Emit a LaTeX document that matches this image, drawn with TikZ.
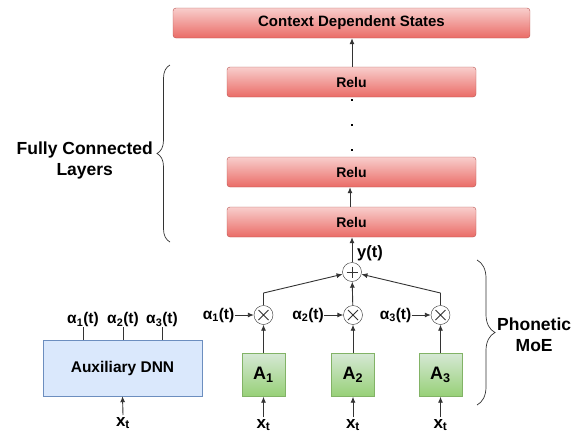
\documentclass[tikz,border=0pt]{standalone}
\usepackage{fontspec}
\setmainfont{Liberation Sans}
\usetikzlibrary{arrows.meta,decorations.pathreplacing,calc}

\definecolor{redtop}{HTML}{F8CECC}
\definecolor{redbot}{HTML}{EA6B66}
\definecolor{redline}{HTML}{B85450}
\definecolor{greentop}{HTML}{D5E8D4}
\definecolor{greenbot}{HTML}{97D077}
\definecolor{greenline}{HTML}{82B366}
\definecolor{bluefill}{HTML}{DAE8FC}
\definecolor{blueline}{HTML}{6C8EBF}
\definecolor{ink}{HTML}{333333}

\tikzset{
  layer/.style={draw=redline, rounded corners=3pt, top color=redtop, bottom color=redbot,
    minimum height=30pt, inner sep=0pt, font=\fontsize{14}{15}\selectfont\bfseries},
  expert/.style={draw=greenline, top color=greentop, bottom color=greenbot,
    minimum width=43pt, minimum height=43pt, inner sep=0pt, font=\fontsize{18}{19}\selectfont\bfseries},
  auxbox/.style={draw=blueline, fill=bluefill, minimum width=159pt, minimum height=56pt,
    inner sep=0pt, font=\fontsize{15.5}{16}\selectfont\bfseries},
  opnode/.style={draw=ink, fill=white, circle, minimum size=19pt, inner sep=0pt},
  lbl/.style={inner sep=0pt, font=\fontsize{15.5}{16}\selectfont\bfseries},
  side/.style={inner sep=0pt, align=center, font=\fontsize{17.5}{21}\selectfont\bfseries},
  wire/.style={draw=ink, line width=0.9pt},
  arr/.style={wire, -{Latex[length=6pt,width=5pt]}},
  bracket/.style={draw=ink, line width=0.7pt, decorate,
    decoration={brace, amplitude=#1}},
  dotmark/.style={fill=black, minimum size=2.6pt, inner sep=0pt},
}

\begin{document}
\begin{tikzpicture}[x=1pt,y=-1pt]
\useasboundingbox (0,0) rectangle (574,434);

% output layer and the fully connected stack
\node[layer, minimum width=357pt, font=\fontsize{15}{16}\selectfont\bfseries] (cds) at (351.5,23) {Context Dependent States};
\node[layer, minimum width=249pt] (r3) at (351.5,82) {Relu};
\node[layer, minimum width=249pt] (r2) at (351.5,172) {Relu};
\node[layer, minimum width=249pt] (r1) at (351.5,222) {Relu};
\foreach \yy/\nm in {100/d1,125/d2,150/d3}
  \node[dotmark] (\nm) at (352,\yy) {};

\draw[arr] (r3.north -| 352,0) -- (cds.south -| 352,0);
\draw[arr] (r1.north -| 350,0) -- (r2.south -| 350,0);

% mixture of experts
\node[opnode] (plus) at (352,272) {};
\draw[ink, line width=0.8pt] ($(plus.center)+(-5.5,0)$) -- ++(11,0) ($(plus.center)+(0,-5.5)$) -- ++(0,11);
\node[lbl, anchor=west, font=\fontsize{16.5}{17}\selectfont\bfseries] (yt) at (357,253) {y(t)};
\draw[arr] (plus) -- (plus |- r1.south);

\foreach \i/\xx in {1/263.5,2/353,3/440.5}{
  \node[opnode] (m\i) at (\xx,315) {};
  \draw[ink, line width=0.8pt] ($(m\i.center)+(-5,-5)$) -- ++(10,10) ($(m\i.center)+(-5,5)$) -- ++(10,-10);
  \node[expert] (e\i) at (\xx,375) {A\textsubscript{\i}};
  \coordinate (in\i) at (\xx,417);
  \node[lbl, anchor=north, font=\fontsize{17}{18}\selectfont\bfseries] (x\i) at (\xx,419) {x\textsubscript{t}};
  \draw[arr] (in\i) -- (e\i.south);
  \draw[arr] (e\i) -- (m\i);
  \node[lbl, anchor=east] (g\i) at (\xx-29,315) {α\textsubscript{\i}(t)};
  \draw[arr] (g\i) -- (m\i);
}
\coordinate (k1) at (263.5,293);
\coordinate (k3) at (440.5,293);
\draw[wire] (m1) -- (k1);
\draw[arr] (k1) -- (plus);
\draw[wire] (m3) -- (k3);
\draw[arr] (k3) -- (plus);
\draw[arr] (m2) -- (plus);

% auxiliary gating network
\node[auxbox] (aux) at (122.5,368) {Auxiliary DNN};
\foreach \i/\xx in {1/83,2/123,3/162}{
  \coordinate (o\i) at (\xx,327);
  \draw[wire] (aux.north -| o\i) -- (o\i);
  \node[lbl, anchor=south] (h\i) at (\xx,327) {α\textsubscript{\i}(t)};
}
\coordinate (ina) at (123,415);
\node[lbl, anchor=north, font=\fontsize{17}{18}\selectfont\bfseries] (xa) at (123,417) {x\textsubscript{t}};
\draw[arr] (ina) -- (aux.south);

% braces with their captions
\draw[bracket=13pt] (170,242) -- (170,65);
\node[side, anchor=east] (fc) at (153,160) {Fully Connected\\Layers};
\draw[bracket=18pt] (477,260) -- (477,405);
\node[side, anchor=west] (moe) at (497,335) {Phonetic\\MoE};
\end{tikzpicture}
\end{document}
